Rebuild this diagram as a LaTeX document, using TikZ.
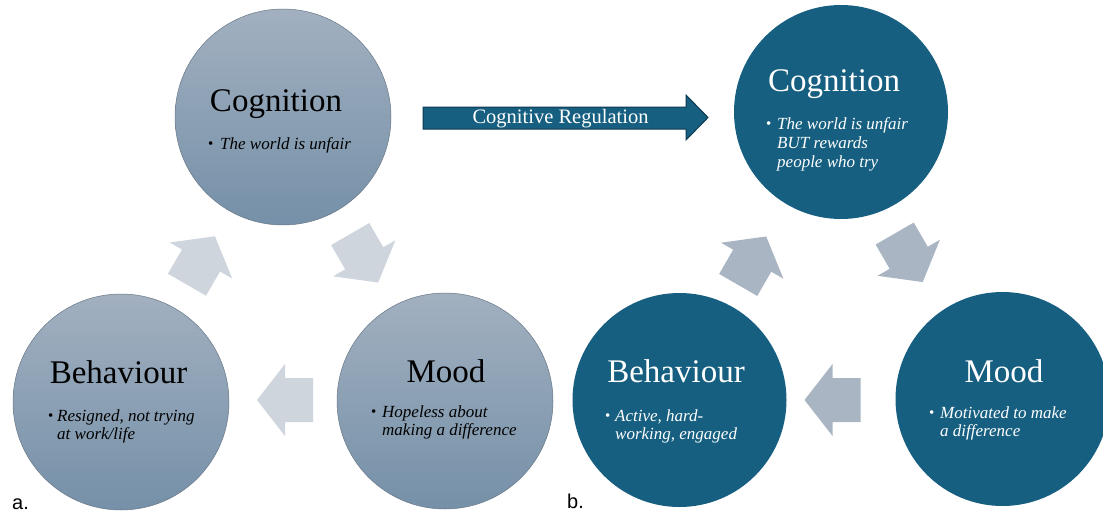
\documentclass[tikz,border=0pt]{standalone}
\usepackage{fontspec}
\setmainfont{Liberation Serif}
\newfontfamily\labfont{Liberation Sans}
\definecolor{lctop}{RGB}{162,176,192}
\definecolor{lcbot}{RGB}{117,144,168}
\definecolor{lcedge}{RGB}{105,120,135}
\definecolor{rcfill}{RGB}{22,95,128}
\definecolor{larrow}{RGB}{206,213,221}
\definecolor{rarrow}{RGB}{169,181,194}
\definecolor{regedge}{RGB}{14,58,80}
\begin{document}
\begin{tikzpicture}[x=1pt,y=-1pt,
  lcirc/.style={circle, minimum size=216pt, inner sep=0, top color=lctop, bottom color=lcbot, draw=lcedge, line width=0.5pt},
  rcirc/.style={circle, minimum size=214pt, inner sep=0, fill=rcfill},
  ttl/.style={font=\fontsize{33}{36}\selectfont, inner sep=0, anchor=base},
  btx/.style={font=\fontsize{17}{19}\selectfont\itshape, inner sep=0, anchor=base west},
  bdot/.style={font=\fontsize{15}{19}\selectfont, inner sep=0, anchor=base west},
  wht/.style={text=white},
  lab/.style={font=\labfont\fontsize{20}{22}\selectfont, inner sep=0, anchor=base west},
  cyc/.pic={\path[pic actions] (-28,-22) -- (0,-22) -- (0,-36) -- (28,0) -- (0,36) -- (0,22) -- (-28,22) -- cycle;}
]
\useasboundingbox (0,0) rectangle (1103,514);
% ---------- panel a ----------
\node[lcirc] (lcog) at (283,117) {};
\node[lcirc] (lbeh) at (121,402) {};
\node[lcirc] (lmood) at (445,401) {};
\pic[fill=larrow, rotate=60] at (201,260.5) {cyc};
\pic[fill=larrow, rotate=-60] at (364.2,258.3) {cyc};
\pic[fill=larrow, rotate=180] at (285,400) {cyc};
\node[ttl] (lcogt) at (276,111) {Cognition};
\node[bdot] (lcogb) at (208,148) {•};
\node[btx] (lcog1) at (220,149) {The world is unfair};
\node[ttl] (lbeht) at (118.5,383) {Behaviour};
\node[bdot] (lbehb) at (48,420) {•};
\node[btx] (lbeh1) at (57,421) {Resigned, not trying};
\node[btx] (lbeh2) at (57,439) {at work/life};
\node[ttl] (lmoodt) at (446,382) {Mood};
\node[bdot] (lmoodb) at (371,416) {•};
\node[btx] (lmood1) at (382,417) {Hopeless about};
\node[btx] (lmood2) at (382,435) {making a difference};
\node[lab] (la) at (12,509) {a.};
% ---------- regulation arrow ----------
\path[fill=rcfill, draw=regedge, line width=1pt] (423,107) -- (686,107) -- (686,95) -- (708,117.5) -- (686,140) -- (686,129) -- (423,129) -- cycle;
\node[inner sep=0, anchor=base, wht, font=\fontsize{20.5}{24}\selectfont] (reg) at (560.5,123) {Cognitive Regulation};
% ---------- panel b ----------
\node[rcirc] (rcog) at (841,112) {};
\node[rcirc] (rbeh) at (679.5,400) {};
\node[rcirc] (rmood) at (1002.5,399) {};
\pic[fill=rarrow, rotate=60] at (752.2,260.7) {cyc};
\pic[fill=rarrow, rotate=-60] at (908.7,257.8) {cyc};
\pic[fill=rarrow, rotate=180] at (832.5,400) {cyc};
\node[ttl, wht] (rcogt) at (834,91) {Cognition};
\node[bdot, wht] (rcogb) at (766,128) {•};
\node[btx, wht] (rcog1) at (777,129) {The world is unfair};
\node[btx, wht] (rcog2) at (777,148) {BUT rewards};
\node[btx, wht] (rcog3) at (777,167) {people who try};
\node[ttl, wht] (rbeht) at (676,382) {Behaviour};
\node[bdot, wht] (rbehb) at (605,420) {•};
\node[btx, wht] (rbeh1) at (615,421) {Active, hard-};
\node[btx, wht] (rbeh2) at (615,439) {working, engaged};
\node[ttl, wht] (rmoodt) at (1004,382) {Mood};
\node[bdot, wht] (rmoodb) at (929,417) {•};
\node[btx, wht] (rmood1) at (940,418) {Motivated to make};
\node[btx, wht] (rmood2) at (940,436) {a difference};
\node[lab] (lb) at (567,508) {b.};
\end{tikzpicture}
\end{document}
